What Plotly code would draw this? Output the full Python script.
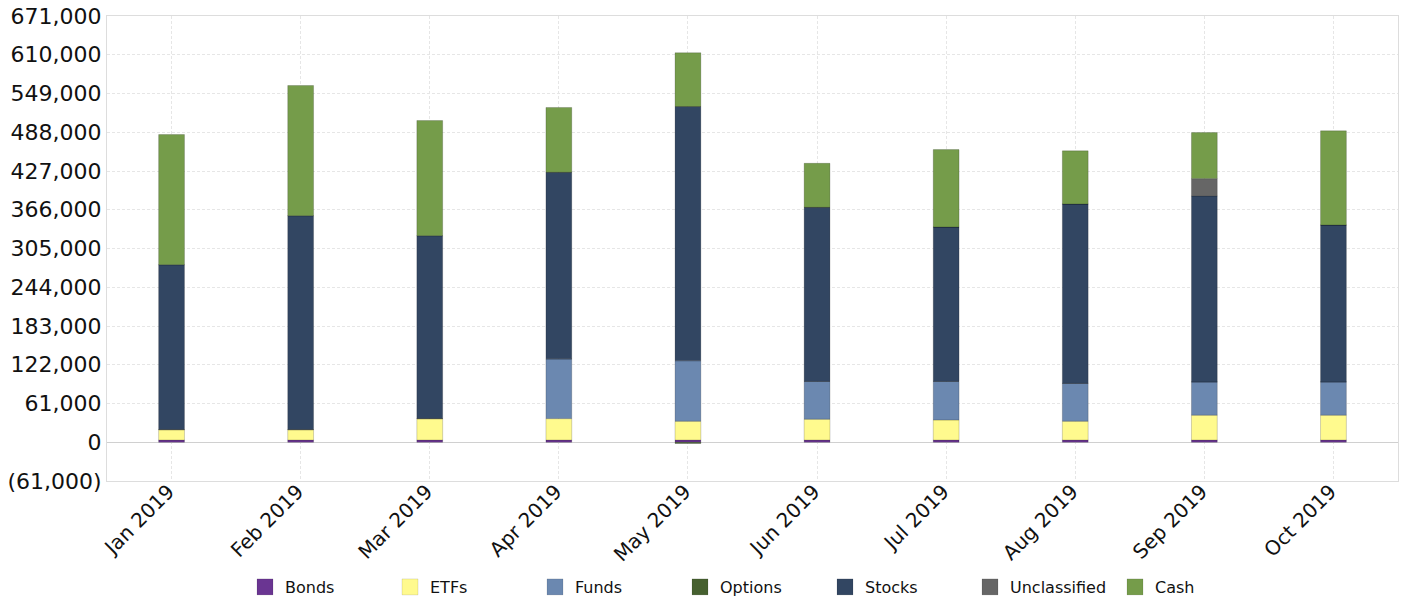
import plotly.graph_objects as go

months = ["Jan 2019", "Feb 2019", "Mar 2019", "Apr 2019", "May 2019",
          "Jun 2019", "Jul 2019", "Aug 2019", "Sep 2019", "Oct 2019"]

bonds        = [3500, 3500, 3500, 3500, 3500, 3500, 3500, 3500, 3500, 3500]
etfs         = [16400, 16400, 33700, 33700, 29600, 32800, 31600, 29600, 39100, 39100]
funds        = [0, 0, 0, 94100, 95100, 59500, 60700, 59600, 52400, 52400]
options      = [0, 0, 0, 0, -2000, 0, 0, 0, 0, 0]
stocks       = [259600, 336800, 288000, 293700, 400300, 274000, 243100, 282400, 292700, 247000]
unclassified = [0, 0, 0, 0, 0, 0, 0, 0, 27300, 0]
cash         = [204900, 204900, 181200, 102000, 84600, 69300, 121800, 83600, 72500, 148200]

y_ticks = [-61000, 0, 61000, 122000, 183000, 244000, 305000, 366000, 427000, 488000, 549000, 610000, 671000]

series = [
    ("Bonds", bonds, "#6a3592"),
    ("ETFs", etfs, "#fffa8e"),
    ("Funds", funds, "#6b88b0"),
    ("Options", options, "#46602f"),
    ("Stocks", stocks, "#324662"),
    ("Unclassified", unclassified, "#666666"),
    ("Cash", cash, "#759c4a"),
]

fig = go.Figure()
for name, vals, color in series:
    fig.add_trace(go.Bar(
        x=months, y=vals, name=name, legendgroup=name, showlegend=False,
        marker=dict(color=color, line=dict(color="rgba(0,0,0,0.18)", width=1)),
        width=0.2,
    ))
# legend swatches (larger squares, as in the reference)
for name, vals, color in series:
    fig.add_trace(go.Scatter(
        x=[None], y=[None], mode="markers", name=name, legendgroup=name,
        marker=dict(symbol="square", size=19, color=color,
                    line=dict(color="rgba(0,0,0,0.1)", width=1)),
        showlegend=True,
    ))

def fmt(v):
    return f"({abs(v):,})" if v < 0 else f"{v:,}"

fig.update_layout(
    width=1405, height=600,
    barmode="relative",
    plot_bgcolor="white", paper_bgcolor="white",
    margin=dict(l=107, r=7, t=16, b=119, autoexpand=False),
    font=dict(family="DejaVu Sans", color="#111111"),
    showlegend=True,
    legend=dict(orientation="h", x=0.5, xanchor="center", y=-0.228, yanchor="middle",
                font=dict(size=16), entrywidth=100, entrywidthmode="pixels",
                traceorder="normal", itemsizing="trace"),
)
fig.update_xaxes(
    tickangle=-45, tickfont=dict(size=20),
    ticklabelstandoff=-10, ticklabelshift=-3,
    showgrid=True, gridcolor="#e6e6e6", griddash="3px,2px", gridwidth=1,
    showline=True, linecolor="#dddddd", mirror=True,
    automargin=False,
)
fig.update_yaxes(
    range=[-61000, 671000],
    tickvals=y_ticks, ticktext=[fmt(v) for v in y_ticks],
    tickfont=dict(size=22), ticklabeloverflow="allow",
    showgrid=True, gridcolor="#e6e6e6", griddash="3px,2px", gridwidth=1,
    zeroline=True, zerolinecolor="#d0d0d0", zerolinewidth=1,
    showline=True, linecolor="#dddddd", mirror=True,
    automargin=False,
)

fig.write_html("out.html",
               config={"displayModeBar": False},
               post_script="document.body.style.margin='0px';document.body.style.overflow='hidden';")
